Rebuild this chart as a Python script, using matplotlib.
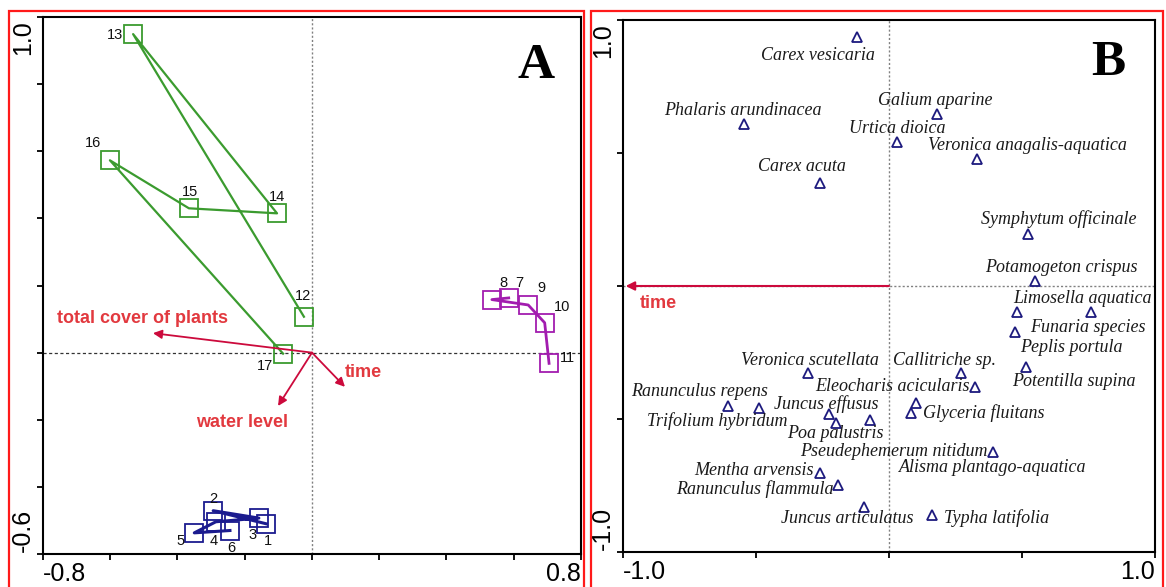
import matplotlib
matplotlib.use("Agg")
import matplotlib.pyplot as plt
from matplotlib.patches import Rectangle
import numpy as np

# ---------------- Data: panel A (sample scores) ----------------
blue_labels = ['1', '2', '3', '4', '5', '6']
blue_x = [-0.136, -0.294, -0.158, -0.286, -0.350, -0.244]
blue_y = [-0.510, -0.471, -0.493, -0.504, -0.537, -0.530]

purple_labels = ['7', '8', '9', '10', '11']
purple_x = [0.585, 0.535, 0.643, 0.692, 0.705]
purple_y = [0.163, 0.158, 0.142, 0.089, -0.032]

green_labels = ['12', '13', '14', '15', '16', '17']
green_x = [-0.024, -0.532, -0.104, -0.366, -0.601, -0.086]
green_y = [0.107, 0.949, 0.415, 0.430, 0.573, -0.003]

env_names = ['total cover of plants', 'water level', 'time']
env_x = [-0.473, -0.101, 0.098]
env_y = [0.058, -0.159, -0.102]

# ---------------- Data: panel B (species scores) ----------------
species = ['Carex vesicaria', 'Phalaris arundinacea', 'Galium aparine', 'Urtica dioica',
           'Veronica anagalis-aquatica', 'Carex acuta', 'Symphytum officinale',
           'Potamogeton crispus', 'Limosella aquatica', 'Funaria species', 'Peplis portula',
           'Potentilla supina', 'Veronica scutellata', 'Callitriche sp.', 'Eleocharis acicularis',
           'Ranunculus repens', 'Trifolium hybridum', 'Juncus effusus', 'Poa palustris',
           'Pseudephemerum nitidum', 'Glyceria fluitans', '', 'Alisma plantago-aquatica',
           'Mentha arvensis', 'Ranunculus flammula', 'Juncus articulatus', 'Typha latifolia']
species_x = [-0.122, -0.544, 0.179, 0.030, 0.329, -0.260, 0.522, 0.549, 0.481, 0.760, 0.473,
             0.515, -0.304, 0.270, 0.325, -0.606, -0.489, -0.226, -0.198, -0.073, 0.081, 0.102,
             0.391, -0.259, -0.190, -0.095, 0.163]
species_y = [0.935, 0.609, 0.645, 0.540, 0.476, 0.388, 0.194, 0.019, -0.099, -0.099, -0.173,
             -0.305, -0.327, -0.327, -0.379, -0.451, -0.460, -0.482, -0.514, -0.504, -0.476,
             -0.439, -0.623, -0.704, -0.748, -0.832, -0.861]

envB_names = ['time']
envB_x = [-0.99]
envB_y = [0.0]

# ---------------- Styles / label offsets (pixels, screen-down positive) ----------------
blue_off = [(2, 17), (0, -12), (-6, 17), (-2, 19), (-14, 8), (1, 17)]
purple_off = [(11, -15), (12, -17), (13, -17), (17, -16), (18, -5)]
green_off = [(-1, -21), (-18, 1), (0, -16), (1, -16), (-17, -17), (-18, 12)]
env_off = [(-10, -15), (-36, 17), (18, -14)]
species_off = [(-39, 18), (-1, -14), (-1, -14), (0, -14), (51, -14), (-18, -16), (31, -15),
               (26, -13), (66, -14), (-3, 15), (57, 15), (48, 14), (2, -12), (-16, -12),
               (-83, 0), (-28, -14), (-42, 13), (-3, -10), (-1, 11), (24, 31), (73, 0),
               (0, 0), (0, 16), (-66, -3), (-84, 4), (-16, 11), (64, 3)]

GREEN = '#3b9b2f'
PURPLE = '#a21caf'
NAVY = '#1b1b8f'
ARROW = '#cc0a3c'
ELAB = '#e2393f'
TRI = '#1d1a7e'

SANS = 'Liberation Sans'
SERIF = 'Liberation Serif'

W, H = 1166, 587
fig = plt.figure(figsize=(W / 100, H / 100), dpi=100)
fig.patch.set_facecolor('white')

axA = fig.add_axes([43 / W, (H - 554) / H, 538 / W, 537 / H])
axB = fig.add_axes([623 / W, (H - 552) / H, 532 / W, 532 / H])

for ax in (axA, axB):
    for s in ax.spines.values():
        s.set_linewidth(1.5)
        s.set_color('black')
    ax.tick_params(direction='out', length=4, width=1.3, labelbottom=False, labelleft=False,
                   top=False, right=False)

# ---------------- Panel A ----------------
axA.set_xlim(-0.8, 0.8)
axA.set_ylim(-0.6, 1.0)
axA.set_xticks(np.arange(-0.8, 0.81, 0.2))
axA.set_yticks(np.arange(-0.6, 1.01, 0.2))
axA.axvline(0, color='#808080', lw=1, ls=(0, (1.5, 1.5)), zorder=1)
axA.axhline(0, color='#333333', lw=0.9, ls=(0, (2.5, 2)), zorder=1)

for lab, xs, ys, offs, col, lw in [
        (blue_labels, blue_x, blue_y, blue_off, NAVY, 2.2),
        (purple_labels, purple_x, purple_y, purple_off, PURPLE, 2.0),
        (green_labels, green_x, green_y, green_off, GREEN, 1.6)]:
    axA.plot(xs, ys, color=col, lw=lw, zorder=3, solid_joinstyle='round')
    axA.plot(xs, ys, ls='none', marker='s', ms=13, mfc='none', mec=col, mew=1.3, zorder=4)
    for t, x, y, (dx, dy) in zip(lab, xs, ys, offs):
        axA.annotate(t, xy=(x, y), xytext=(dx, -dy), textcoords='offset pixels',
                     ha='center', va='center', fontsize=10.5, family=SANS, color='#111111',
                     zorder=5)

for name, x, y, (dx, dy) in zip(env_names, env_x, env_y, env_off):
    axA.annotate('', xy=(x, y), xytext=(0, 0),
                 arrowprops=dict(arrowstyle='-|>', color=ARROW, lw=1.3, mutation_scale=13,
                                 shrinkA=0, shrinkB=0), zorder=6)
    axA.annotate(name, xy=(x, y), xytext=(dx, -dy), textcoords='offset pixels',
                 ha='center', va='center', fontsize=13, family=SANS, fontweight='bold',
                 color=ELAB, zorder=7)

axA.text(536 / W, (H - 66) / H, 'A', transform=fig.transFigure, ha='center', va='center',
         fontsize=37, family=SERIF, fontweight='bold')

# ---------------- Panel B ----------------
axB.set_xlim(-1.0, 1.0)
axB.set_ylim(-1.0, 1.0)
axB.set_xticks(np.arange(-1.0, 1.01, 0.5))
axB.set_yticks(np.arange(-1.0, 1.01, 0.5))
axB.axvline(0, color='#808080', lw=1, ls=(0, (1.5, 1.5)), zorder=1)
axB.axhline(0, color='#808080', lw=1, ls=(0, (1.5, 1.5)), zorder=1)

axB.plot(species_x, species_y, ls='none', marker='^', ms=6.5, mfc='none', mec=TRI, mew=1.3,
         zorder=4)
for name, x, y, (dx, dy) in zip(species, species_x, species_y, species_off):
    if name:
        axB.annotate(name, xy=(x, y), xytext=(dx, -dy), textcoords='offset pixels',
                     ha='center', va='center', fontsize=13, family=SERIF, style='italic',
                     color='#1a1a1a', zorder=5)

for name, x, y in zip(envB_names, envB_x, envB_y):
    axB.annotate('', xy=(x, y), xytext=(0, 0),
                 arrowprops=dict(arrowstyle='-|>', color=ARROW, lw=1.5, mutation_scale=13,
                                 shrinkA=0, shrinkB=0), zorder=6)
    axB.annotate(name, xy=(x, y), xytext=(33, -17), textcoords='offset pixels',
                 ha='center', va='center', fontsize=13, family=SANS, fontweight='bold',
                 color=ELAB, zorder=7)

axB.text(1108 / W, (H - 63) / H, 'B', transform=fig.transFigure, ha='center', va='center',
         fontsize=37, family=SERIF, fontweight='bold')

# ---------------- End-of-axis value labels ----------------
def end_labels(ax, xmin, xmax, ymin, ymax):
    kw = dict(xycoords='axes fraction', textcoords='offset pixels', fontsize=18, family=SANS)
    ax.annotate(xmin, xy=(0, 0), xytext=(0, -8), ha='left', va='top', **kw)
    ax.annotate(xmax, xy=(1, 0), xytext=(0, -8), ha='right', va='top', **kw)
    ax.annotate(ymax, xy=(0, 1), xytext=(-20, -3), ha='center', va='top', rotation=90, **kw)
    ax.annotate(ymin, xy=(0, 0), xytext=(-20, 2), ha='center', va='bottom', rotation=90, **kw)

end_labels(axA, '-0.8', '0.8', '-0.6', '1.0')
end_labels(axB, '-1.0', '1.0', '-1.0', '1.0')

# ---------------- Red panel borders ----------------
for x0, x1 in [(9, 584), (591, 1163)]:
    fig.add_artist(Rectangle((x0 / W, -0.02), (x1 - x0) / W, (H - 10.5) / H + 0.02,
                             transform=fig.transFigure, fill=False, ec='#ff1a1a', lw=1.6))

fig.savefig('out.png', dpi=100)
